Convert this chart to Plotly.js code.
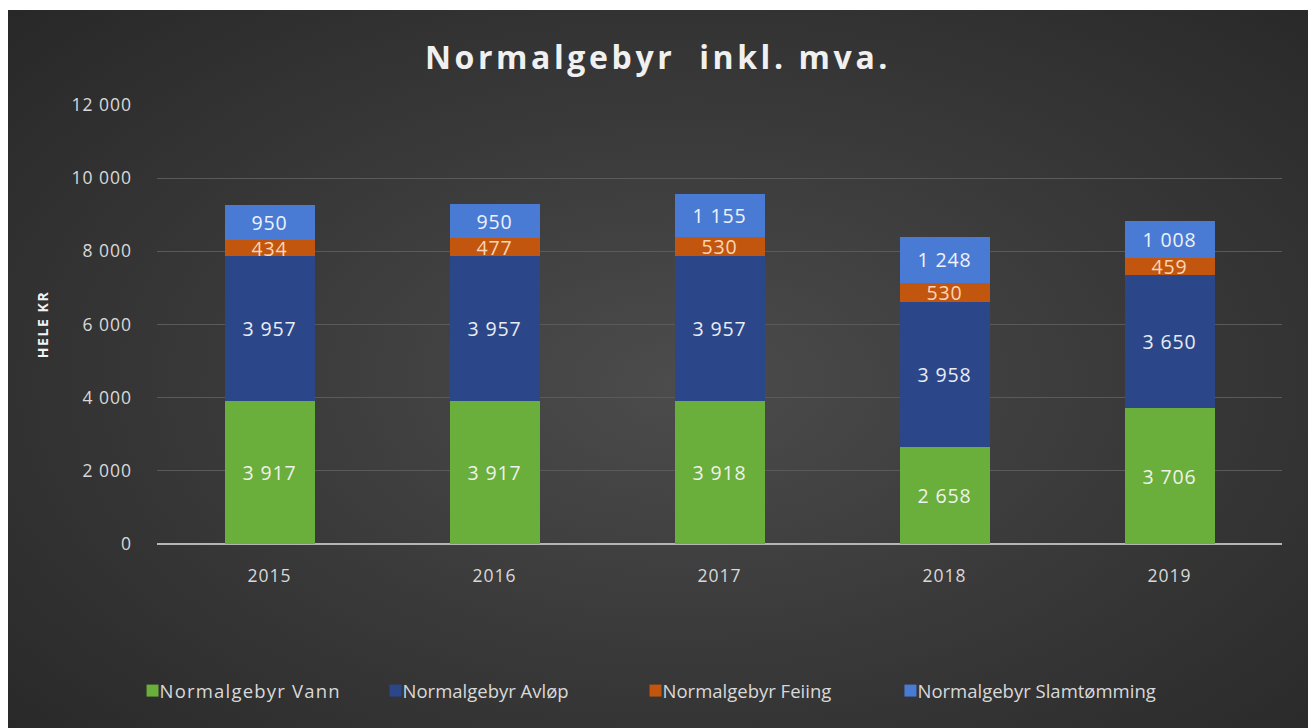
<!DOCTYPE html>
<html><head><meta charset="utf-8">
<script src="https://cdn.plot.ly/plotly-3.0.1.min.js"></script>
<style>
html,body{margin:0;padding:0;background:#fff;}
#chart{position:absolute;left:8px;top:10px;width:1300px;height:718px;
background:radial-gradient(ellipse 75% 80% at 52% 52%, #4c4c4c 0%, #3a3a3a 45%, #262626 100%);}
#chart .gtitle{letter-spacing:3.6px;}
#chart .ytick text, #chart .xtick text{letter-spacing:1px;}
#chart .bartext{letter-spacing:0.9px;}
#chart .legendtext{letter-spacing:1.2px;}
#chart .legendsymbols{transform:translateX(13px);}
#chart .scrollbox{clip-path:none !important;}
#chart .annotation-text{letter-spacing:1.6px;}
</style></head>
<body><div id="chart"></div>
<script>
const years = ['2015','2016','2017','2018','2019'];
const vann = [3917, 3917, 3918, 2658, 3706];
const avlop = [3957, 3957, 3957, 3958, 3650];
const feiing = [434, 477, 530, 530, 459];
const slam = [950, 950, 1155, 1248, 1008];
const names = ['Normalgebyr Vann','Normalgebyr Avløp','Normalgebyr Feiing','Normalgebyr Slamtømming'];
const colors = ['#6aae3c','#2c4789','#c2560f','#4a7bd4'];
const textColors = ['#eef2ea','#e8ecf4','#fbd5b5','#eef2fa'];
const series = [vann, avlop, feiing, slam];
const legendIds = ['legend','legend2','legend3','legend4'];
const legendX = [-0.0333, 0.1827, 0.4138, 0.6404];
const FONT = '"Open Sans", Lato, sans-serif';

const traces = series.map((vals,i)=>({
  type:'bar', x:years, y:vals, name:names[i], legend:legendIds[i],
  marker:{color:colors[i], line:{width:0}},
  texttemplate:'%{y:,.0f}', textposition:'inside', insidetextanchor:'middle',
  constraintext:'none', textangle:0,
  textfont:{family:FONT, size:19.5, color:textColors[i]},
  hoverinfo:'x+y+name'
}));

const layout = {
  width:1300, height:718, barmode:'stack', bargap:0.6,
  separators:', ',
  paper_bgcolor:'rgba(0,0,0,0)', plot_bgcolor:'rgba(0,0,0,0)',
  margin:{l:149, r:26, t:95, b:184},
  title:{text:'Normalgebyr  inkl. mva.', x:0.5, xanchor:'center', y:0.933, yanchor:'middle',
    font:{family:FONT, size:32, color:'#f0f0f0', weight:'bold'}},
  font:{family:FONT, color:'#d9d9d9'},
  xaxis:{type:'category', showgrid:false, zeroline:false, showline:false, ticks:'',
    tickfont:{size:17.5, color:'#d9d9d9'}, ticklabelstandoff:19},
  yaxis:{range:[0,12000], tickvals:[0,2000,4000,6000,8000,10000,12000],
    tickformat:',.0f', showgrid:true, gridcolor:'#5a5a5a', gridwidth:1,
    zeroline:true, zerolinecolor:'#b5b5b5', zerolinewidth:1.5,
    showline:false, ticks:'', tickfont:{size:17.5, color:'#d9d9d9'}, ticklabelstandoff:24},
  showlegend:true,
  annotations:[{text:'<b>HELE KR</b>', xref:'paper', yref:'paper', x:-0.102, y:0.5,
    xanchor:'center', yanchor:'middle', textangle:-90, showarrow:false,
    font:{size:14, color:'#f2f2f2'}}]
};
legendIds.forEach((id,i)=>{
  layout[id] = {orientation:'h', x:legendX[i], xanchor:'left', y:-0.335, yanchor:'middle',
    font:{size:18.5, color:'#d9d9d9'}, itemwidth:30, bgcolor:'rgba(0,0,0,0)'};
});
Plotly.newPlot('chart', traces, layout, {displayModeBar:false, responsive:false});
</script></body></html>
